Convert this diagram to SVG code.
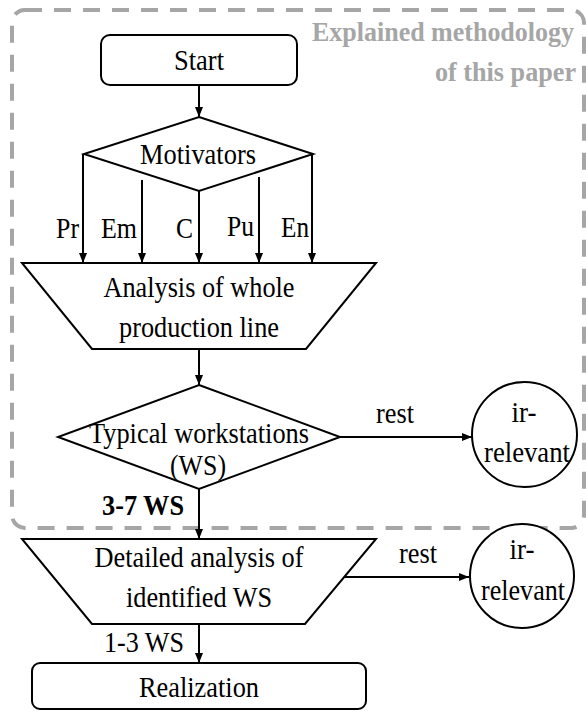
<svg xmlns="http://www.w3.org/2000/svg" width="586" height="711" viewBox="0 0 586 711">
<defs>
<marker id="ah" viewBox="0 0 10 10" refX="10" refY="5" markerWidth="10" markerHeight="10" markerUnits="userSpaceOnUse" orient="auto">
<path d="M0,1 L10,5 L0,9 Z" fill="#000"/>
</marker>
</defs>
<style>
.s{fill:#fff;stroke:#000;stroke-width:2}
.t{font-family:"Liberation Serif","Times New Roman",serif;font-size:29px;fill:#000}
.m{text-anchor:middle}
.g{font-family:"Liberation Serif","Times New Roman",serif;font-size:27px;font-weight:bold;fill:#a6a6a6;text-anchor:end}
.c{fill:none;stroke:#000;stroke-width:2;marker-end:url(#ah)}
</style>
<rect width="586" height="711" fill="#fff"/>
<g id="frame">
<rect x="12" y="10" width="572" height="518" rx="13" fill="none" stroke="#a6a6a6" stroke-width="4" stroke-dasharray="17 12"/>
<text class="g" x="574" y="41" textLength="262" lengthAdjust="spacingAndGlyphs">Explained methodology</text>
<text class="g" x="576" y="81" textLength="141" lengthAdjust="spacingAndGlyphs">of this paper</text>
</g>
<g id="connectors">
<line class="c" x1="199" y1="85" x2="199" y2="117"/>
<line class="c" x1="83" y1="154" x2="83" y2="263"/>
<line class="c" x1="142" y1="180" x2="142" y2="263"/>
<line class="c" x1="199" y1="191" x2="199" y2="263"/>
<line class="c" x1="259" y1="177" x2="259" y2="263"/>
<line class="c" x1="312" y1="154" x2="312" y2="263"/>
<line class="c" x1="199" y1="349" x2="199" y2="385"/>
<line class="c" x1="340" y1="437" x2="472" y2="437"/>
<line class="c" x1="199" y1="489" x2="199" y2="539"/>
<line class="c" x1="340" y1="577" x2="469" y2="577"/>
<line class="c" x1="199" y1="624" x2="199" y2="663"/>
<text class="t" x="79" y="238" text-anchor="end" textLength="23" lengthAdjust="spacingAndGlyphs">Pr</text>
<text class="t" x="137" y="238" text-anchor="end" textLength="36" lengthAdjust="spacingAndGlyphs">Em</text>
<text class="t" x="193" y="238" text-anchor="end" textLength="17" lengthAdjust="spacingAndGlyphs">C</text>
<text class="t" x="254" y="236" text-anchor="end" textLength="27" lengthAdjust="spacingAndGlyphs">Pu</text>
<text class="t" x="309" y="237" text-anchor="end" textLength="28" lengthAdjust="spacingAndGlyphs">En</text>
<text class="t m" x="395" y="423" textLength="38" lengthAdjust="spacingAndGlyphs">rest</text>
<text class="t m" x="418" y="563" textLength="38" lengthAdjust="spacingAndGlyphs">rest</text>
<text class="t" x="184" y="515" text-anchor="end" font-weight="bold" textLength="82" lengthAdjust="spacingAndGlyphs">3-7 WS</text>
<text class="t" x="184" y="652" text-anchor="end" textLength="80" lengthAdjust="spacingAndGlyphs">1-3 WS</text>
</g>
<g id="start">
<rect class="s" x="101" y="35" width="196" height="50" rx="9"/>
<text class="t m" x="199" y="70" textLength="50" lengthAdjust="spacingAndGlyphs">Start</text>
</g>
<g id="motivators">
<polygon class="s" points="199,117 313,154 199,191 84,154"/>
<text class="t m" x="198" y="164" textLength="116" lengthAdjust="spacingAndGlyphs">Motivators</text>
</g>
<g id="analysis">
<polygon class="s" points="22,263 376,263 306,349 92,349"/>
<text class="t m" x="199" y="297" textLength="191" lengthAdjust="spacingAndGlyphs">Analysis of whole</text>
<text class="t m" x="199" y="337" textLength="160" lengthAdjust="spacingAndGlyphs">production line</text>
</g>
<g id="typical">
<polygon class="s" points="199,385 340,437 199,489 58,437"/>
<text class="t m" x="199" y="443" textLength="220" lengthAdjust="spacingAndGlyphs">Typical workstations</text>
<text class="t m" x="198" y="475" textLength="56" lengthAdjust="spacingAndGlyphs">(WS)</text>
</g>
<g id="irrelevant1">
<circle class="s" cx="524.5" cy="434.5" r="52.5"/>
<text class="t m" x="524" y="422" textLength="25" lengthAdjust="spacingAndGlyphs">ir-</text>
<text class="t m" x="527" y="462" textLength="86" lengthAdjust="spacingAndGlyphs">relevant</text>
</g>
<g id="detailed">
<polygon class="s" points="22,539 376,539 305,624 92,624"/>
<text class="t m" x="199" y="567" textLength="209" lengthAdjust="spacingAndGlyphs">Detailed analysis of</text>
<text class="t m" x="199" y="607" textLength="146" lengthAdjust="spacingAndGlyphs">identified WS</text>
</g>
<g id="irrelevant2">
<circle class="s" cx="522" cy="576" r="52"/>
<text class="t m" x="522" y="559" textLength="25" lengthAdjust="spacingAndGlyphs">ir-</text>
<text class="t m" x="523" y="600" textLength="84" lengthAdjust="spacingAndGlyphs">relevant</text>
</g>
<g id="realization">
<rect class="s" x="32" y="663" width="334" height="46" rx="8"/>
<text class="t m" x="199" y="697" textLength="120" lengthAdjust="spacingAndGlyphs">Realization</text>
</g>
</svg>
